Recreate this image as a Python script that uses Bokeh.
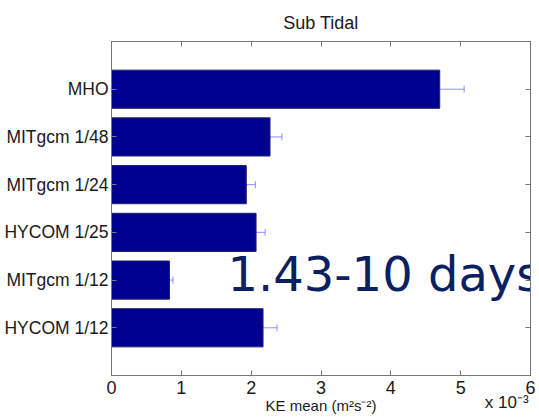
import numpy as np
from bokeh.plotting import figure
from bokeh.models import (Range1d, FixedTicker, LinearAxis, Whisker, TeeHead,
                          ColumnDataSource, CustomJSTickFormatter)
from bokeh.core.properties import value
from bokeh.embed import file_html
from bokeh.resources import INLINE

# data (bottom to top, KE mean in units of 1e-3 m^2 s^-2)
categories = ["HYCOM 1/12", "MITgcm 1/12", "HYCOM 1/25", "MITgcm 1/24", "MITgcm 1/48", "MHO"]
ke_mean = [2.17, 0.83, 2.07, 1.93, 2.27, 4.70]
ke_err = [0.20, 0.05, 0.13, 0.13, 0.17, 0.35]
x_ticks = [0, 1, 2, 3, 4, 5, 6]
scale_text = "x 10⁻³"
scale_text_pos = 5.66   # where the multiplier note sits along the x axis

pos = list(range(1, len(categories) + 1))
src = ColumnDataSource(dict(
    y=pos, v=ke_mean,
    lo=[m - e for m, e in zip(ke_mean, ke_err)],
    hi=[m + e for m, e in zip(ke_mean, ke_err)],
))

FONT = "Liberation Sans"
AX = "#777777"
TXT = "#1a1a1a"

p = figure(width=539, height=419, output_backend="svg", toolbar_location=None,
           x_range=Range1d(0, 6), y_range=Range1d(0, len(categories) + 1),
           min_border_left=111, min_border_right=9, min_border_top=41, min_border_bottom=44,
           title="Sub Tidal")
p.title.text_font = FONT
p.title.text_font_size = "18px"
p.title.text_font_style = "normal"
p.title.text_color = TXT
p.title.align = "center"
p.title.standoff = 18
p.xgrid.visible = False
p.ygrid.visible = False
p.outline_line_color = AX
p.background_fill_color = "white"
p.border_fill_color = "white"

p.hbar(y="y", right="v", left=0, height=0.8, source=src,
       fill_color="#000090", line_color="#202070", line_width=1)

wh = Whisker(base="y", lower="lo", upper="hi", dimension="width", source=src,
             line_color="#6a6aff", line_alpha=0.75, line_width=1,
             upper_head=TeeHead(size=7, line_color="#6a6aff", line_alpha=0.75),
             lower_head=TeeHead(size=7, line_color="#6a6aff", line_alpha=0.0))
p.add_layout(wh)

def style_axis(ax, labels=True):
    ax.axis_line_color = AX
    ax.major_tick_line_color = AX
    ax.major_tick_in = 5
    ax.major_tick_out = 0
    ax.minor_tick_line_color = None
    ax.major_label_text_font = FONT
    ax.major_label_text_color = TXT
    ax.major_label_text_font_size = "18px"
    if not labels:
        ax.formatter = CustomJSTickFormatter(code="return ''")
        ax.major_label_text_font_size = "1px"
        ax.major_label_standoff = 0

xa = p.xaxis[0]
xa.ticker = FixedTicker(ticks=x_ticks)
style_axis(xa)
xa.major_label_standoff = 5
xa.axis_label = "KE mean (m²s⁻²)"
xa.axis_label_text_font = FONT
xa.axis_label_text_font_size = "15px"
xa.axis_label_text_font_style = "normal"
xa.axis_label_text_color = TXT
xa.axis_label_standoff = 0

ya = p.yaxis[0]
ya.ticker = FixedTicker(ticks=pos)
ya.major_label_overrides = {k: c for k, c in zip(pos, categories)}
style_axis(ya)
ya.major_label_text_font_size = "17.5px"
ya.major_label_standoff = 3

top = LinearAxis(ticker=FixedTicker(ticks=x_ticks))
style_axis(top, labels=False)
p.add_layout(top, "above")
right = LinearAxis(ticker=FixedTicker(ticks=pos))
style_axis(right, labels=False)
p.add_layout(right, "right")

# multiplier note under the right end of the x axis (second, bare axis)
note = LinearAxis(ticker=FixedTicker(ticks=[scale_text_pos]),
                  major_label_overrides={scale_text_pos: scale_text})
note.axis_line_color = None
note.major_tick_line_color = None
note.major_tick_in = 0
note.major_tick_out = 0
note.minor_tick_line_color = None
note.major_label_text_font = FONT
note.major_label_text_font_size = "17px"
note.major_label_text_color = TXT
note.major_label_standoff = -24
p.add_layout(note, "below")

# overlay text
p.text(x=[1.66], y=[2.12], text=["1.43-10  days"], text_font=value("DejaVu Sans"),
       text_font_size="48px", text_color="#0b2060", text_baseline="alphabetic")

open("out.html", "w").write(file_html(p, INLINE))
